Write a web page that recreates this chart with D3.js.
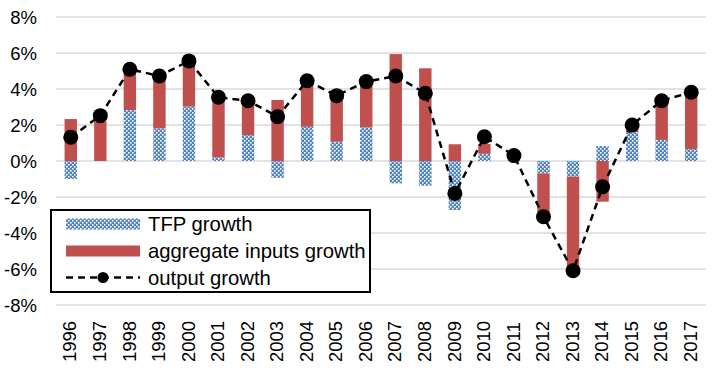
<!DOCTYPE html>
<html>
<head>
<meta charset="utf-8">
<script src="https://cdn.jsdelivr.net/npm/d3@7"></script>
<style>
  body { margin: 0; background: #fff; }
  svg { display: block; font-family: "Liberation Sans", Arial, sans-serif; }
</style>
</head>
<body>
<svg id="chart" width="719" height="372"></svg>
<script>
const years = ['1996','1997','1998','1999','2000','2001','2002','2003','2004','2005','2006',
  '2007','2008','2009','2010','2011','2012','2013','2014','2015','2016','2017'];
const tfpGrowth = [-1.0, 0, 2.83, 1.81, 3.02, 0.2, 1.44, -0.93, 1.9, 1.07, 1.87,
  -1.24, -1.37, -2.72, 0.4, 0, -0.69, -0.87, 0.83, 1.6, 1.17, 0.67];
const inputsGrowth = [2.33, 2.2, 2.3, 2.9, 2.55, 3.3, 1.9, 3.39, 2.55, 2.55, 2.55,
  5.94, 5.15, 0.93, 0.55, 0, -2.4, -5.28, -2.26, 0.35, 2.2, 3.15];
const outputGrowth = [1.32, 2.52, 5.1, 4.72, 5.56, 3.54, 3.35, 2.46, 4.46, 3.63, 4.41,
  4.72, 3.76, -1.8, 1.35, 0.3, -3.1, -6.1, -1.43, 2.0, 3.35, 3.82];
const yTicks = [-8, -6, -4, -2, 0, 2, 4, 6, 8];
const legendLabels = ['TFP growth', 'aggregate inputs growth', 'output growth'];

const svg = d3.select('#chart');
const plotLeft = 56, plotRight = 706, plotTop = 17, plotBottom = 305;
const red = '#c0504d', blue = '#4f81c7';

const defs = svg.append('defs');
const pat = defs.append('pattern')
  .attr('id', 'tfp')
  .attr('patternUnits', 'userSpaceOnUse')
  .attr('width', 4).attr('height', 4);
pat.append('rect').attr('width', 4).attr('height', 4).attr('fill', blue);
pat.append('rect').attr('x', 0).attr('y', 0).attr('width', 1.6).attr('height', 1.6).attr('fill', '#fff');
pat.append('rect').attr('x', 2).attr('y', 2).attr('width', 1.6).attr('height', 1.6).attr('fill', '#fff');

const x = d3.scaleBand().domain(years).range([plotLeft, plotRight]).paddingInner(0.58).paddingOuter(0.29);
const y = d3.scaleLinear().domain([-8, 8]).range([plotBottom, plotTop]);

// gridlines
svg.append('g').selectAll('line').data(yTicks).enter().append('line')
  .attr('x1', plotLeft).attr('x2', plotRight)
  .attr('y1', d => y(d)).attr('y2', d => y(d))
  .attr('stroke', '#d9d9d9').attr('stroke-width', 1.5);

// y labels
svg.append('g').selectAll('text').data(yTicks).enter().append('text')
  .attr('x', 37).attr('y', d => y(d)).attr('dy', '0.36em')
  .attr('text-anchor', 'end').attr('font-size', 18.5).attr('fill', '#000')
  .text(d => d + '%');

// x labels, reading bottom to top
svg.append('g').selectAll('text').data(years).enter().append('text')
  .attr('transform', d => `translate(${x(d) + x.bandwidth() / 2 - 1},362) rotate(-90)`)
  .attr('dy', '0.36em').attr('text-anchor', 'start')
  .attr('font-size', 18.5).attr('fill', '#000')
  .text(d => d);

// stacked bars
const rows = years.map((yr, i) => ({ year: yr, tfp: tfpGrowth[i], inputs: inputsGrowth[i] }));
const series = d3.stack().keys(['tfp', 'inputs']).offset(d3.stackOffsetDiverging)(rows);
const fills = { tfp: 'url(#tfp)', inputs: red };

svg.append('g').selectAll('g').data(series).enter().append('g')
  .attr('fill', s => fills[s.key])
  .selectAll('rect').data(s => s).enter().append('rect')
  .attr('x', d => x(d.data.year))
  .attr('width', x.bandwidth())
  .attr('y', d => y(Math.max(d[0], d[1])))
  .attr('height', d => Math.abs(y(d[0]) - y(d[1])));

// output line
const cx = (d, i) => x(years[i]) + x.bandwidth() / 2;
svg.append('path')
  .datum(outputGrowth)
  .attr('fill', 'none').attr('stroke', '#000')
  .attr('stroke-width', 2.5).attr('stroke-dasharray', '7,5')
  .attr('d', d3.line().x(cx).y(d => y(d)));

svg.append('g').selectAll('circle').data(outputGrowth).enter().append('circle')
  .attr('cx', cx).attr('cy', d => y(d)).attr('r', 7.5).attr('fill', '#000');

// legend
const lg = svg.append('g');
lg.append('rect').attr('x', 51).attr('y', 210).attr('width', 319).attr('height', 82)
  .attr('fill', '#fff').attr('stroke', '#000').attr('stroke-width', 2);
const rowY = [224, 251, 277.5];
lg.append('rect').attr('x', 66).attr('y', rowY[0] - 5.5).attr('width', 74).attr('height', 11).attr('fill', 'url(#tfp)');
lg.append('rect').attr('x', 66).attr('y', rowY[1] - 5.5).attr('width', 74).attr('height', 11).attr('fill', red);
lg.append('line').attr('x1', 66).attr('x2', 140).attr('y1', rowY[2]).attr('y2', rowY[2])
  .attr('stroke', '#000').attr('stroke-width', 2.5).attr('stroke-dasharray', '7,5');
lg.append('circle').attr('cx', 103).attr('cy', rowY[2]).attr('r', 5.5).attr('fill', '#000');
lg.selectAll('text.lbl').data(legendLabels).enter().append('text')
  .attr('class', 'lbl')
  .attr('x', 148).attr('y', (d, i) => rowY[i]).attr('dy', '0.36em')
  .attr('font-size', 20.3).attr('fill', '#000')
  .text(d => d);
</script>
</body>
</html>
